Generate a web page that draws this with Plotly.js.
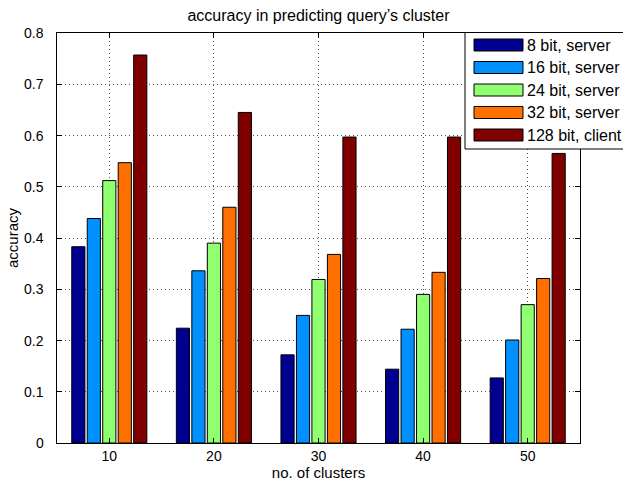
<!DOCTYPE html>
<html>
<head>
<meta charset="utf-8">
<script src="https://cdn.plot.ly/plotly-3.0.1.min.js"></script>
<style>html,body{margin:0;padding:0;background:#fff;}#chart{width:623px;height:483px;}</style>
</head>
<body>
<div id="chart"></div>
<script>
const clusters = [10, 20, 30, 40, 50];
const seriesNames = ['8 bit, server', '16 bit, server', '24 bit, server', '32 bit, server', '128 bit, client'];
const bit8 = [0.383, 0.224, 0.172, 0.144, 0.127];
const bit16 = [0.438, 0.336, 0.249, 0.222, 0.201];
const bit24 = [0.512, 0.390, 0.319, 0.290, 0.270];
const bit32 = [0.547, 0.460, 0.368, 0.333, 0.321];
const bit128 = [0.757, 0.645, 0.597, 0.597, 0.565];
const colors = ['#000090', '#0090FF', '#90FF70', '#FF7000', '#800000'];
const yTicks = [0, 0.1, 0.2, 0.3, 0.4, 0.5, 0.6, 0.7, 0.8];
const yTickText = ['0', '0.1', '0.2', '0.3', '0.4', '0.5', '0.6', '0.7', '0.8'];

const series = [bit8, bit16, bit24, bit32, bit128];
const W = 623, H = 483;
const M = {l: 57, r: 43, t: 33, b: 40};
const pw = W - M.l - M.r, ph = H - M.t - M.b;
const px = x => (x - M.l) / pw;
const py = y => (H - M.b - y) / ph;

const traces = series.map((vals, i) => ({
  type: 'bar', x: clusters, y: vals, name: seriesNames[i],
  marker: {color: colors[i], line: {color: '#000', width: 1}},
  showlegend: false, hoverinfo: 'skip'
}));

const fam = 'Liberation Sans, Arial, sans-serif';
const tickFont = {family: fam, size: 14, color: '#000'};
const textFont = {family: fam, size: 16, color: '#000'};
const axFont = {family: fam, size: 15, color: '#000'};
const shapes = [];
const annotations = [];
// y tick labels placed at axis values
yTicks.forEach((v, i) => {
  annotations.push({xref: 'paper', yref: 'y', x: px(46), y: v, text: yTickText[i], showarrow: false,
    xanchor: 'right', yanchor: 'middle', font: tickFont});
});
// legend box
shapes.push({type: 'rect', xref: 'paper', yref: 'paper', x0: px(465), x1: px(626), y0: py(149), y1: py(32.5),
  line: {color: '#000', width: 1}, fillcolor: '#fff', layer: 'above'});
const rowY = [45, 67.5, 90, 112.5, 135];
seriesNames.forEach((n, i) => {
  shapes.push({type: 'rect', xref: 'paper', yref: 'paper', x0: px(474), x1: px(523), y0: py(rowY[i] + 6), y1: py(rowY[i] - 6),
    line: {color: '#000', width: 1}, fillcolor: colors[i], layer: 'above'});
  annotations.push({xref: 'paper', yref: 'paper', x: px(525), y: py(rowY[i]), text: n, showarrow: false,
    xanchor: 'left', yanchor: 'middle', font: textFont});
});

const layout = {
  width: W, height: H,
  margin: M,
  paper_bgcolor: '#fff', plot_bgcolor: '#fff',
  font: tickFont,
  barmode: 'group', bargap: 0.26, bargroupgap: 0.15,
  title: {text: 'accuracy in predicting query\u2019s cluster', font: textFont,
    x: 0.5, xref: 'paper', y: 1 - 15 / H, yref: 'container', xanchor: 'center', yanchor: 'middle'},
  xaxis: {
    range: [5, 55], tickvals: clusters, ticktext: clusters.map(String),
    ticks: 'inside', ticklen: 5, tickcolor: '#000', showline: true, linecolor: '#000', linewidth: 1, mirror: 'allticks',
    showgrid: true, gridcolor: '#555', griddash: '1px,3px', gridwidth: 1, zeroline: false,
    title: {text: 'no. of clusters', font: axFont, standoff: 2}, tickfont: tickFont
  },
  yaxis: {
    range: [0, 0.8], tickvals: yTicks, showticklabels: false,
    ticks: 'inside', ticklen: 5, tickcolor: '#000', showline: true, linecolor: '#000', linewidth: 1, mirror: 'allticks',
    showgrid: true, gridcolor: '#555', griddash: '1px,3px', gridwidth: 1, zeroline: false,
    title: {text: 'accuracy', font: axFont, standoff: 33}, tickfont: tickFont
  },
  shapes: shapes,
  annotations: annotations
};
Plotly.newPlot('chart', traces, layout, {staticPlot: true, displayModeBar: false});
</script>
</body>
</html>
